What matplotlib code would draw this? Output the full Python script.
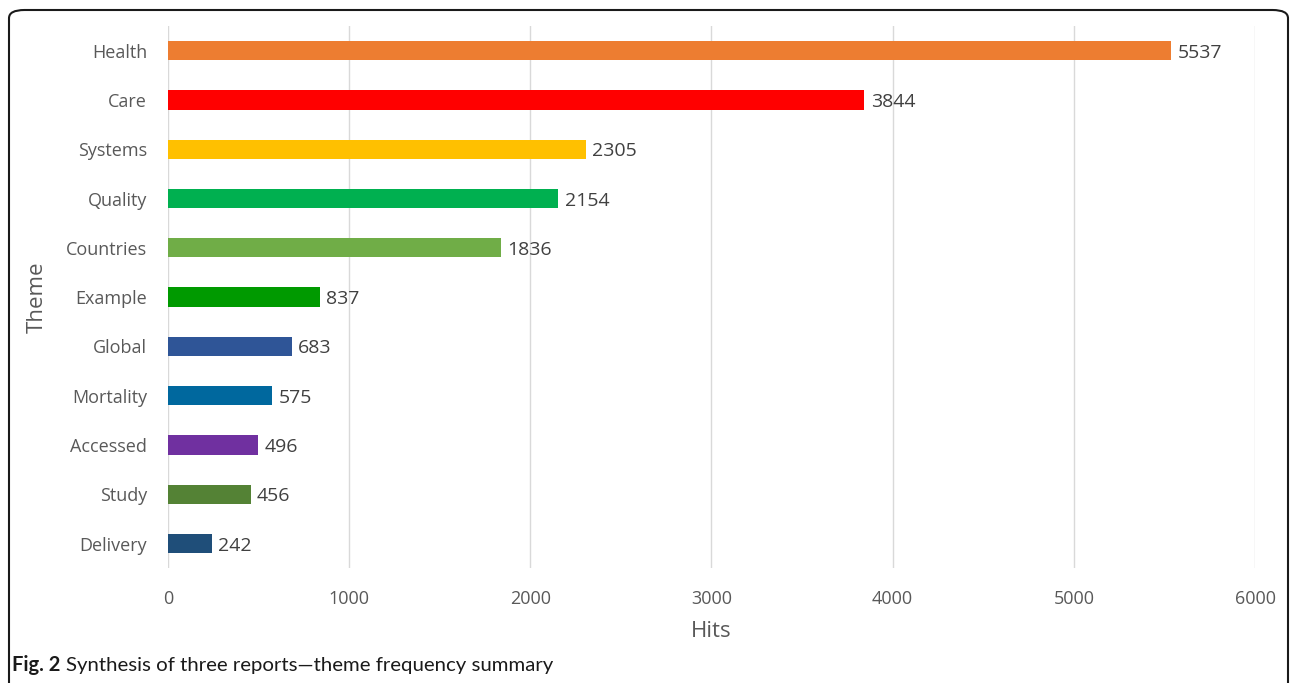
import matplotlib.pyplot as plt
from matplotlib.patches import FancyBboxPatch

themes = ["Health", "Care", "Systems", "Quality", "Countries", "Example",
          "Global", "Mortality", "Accessed", "Study", "Delivery"]
hits = [5537, 3844, 2305, 2154, 1836, 837, 683, 575, 496, 456, 242]
colors = ["#ED7D31", "#FF0000", "#FFC000", "#00B050", "#70AD47", "#009A00",
          "#2F5597", "#00689E", "#7030A0", "#548235", "#1F4E79"]

plt.rcParams['font.family'] = ['Open Sans', 'DejaVu Sans']

fig = plt.figure(figsize=(12.9, 6.83), dpi=100)
ax = fig.add_axes([0.1302, 0.168, 0.8427, 0.794])

ypos = list(range(len(themes)))[::-1]
ax.barh(ypos, hits, height=0.39, color=colors, zorder=3)
for y, v in zip(ypos, hits):
    ax.text(v + 35, y, str(v), va="center_baseline", ha="left", fontsize=14, color="#404040")

ax.set_xlim(0, 6000)
ax.set_ylim(-0.5, len(themes) - 0.5)
ax.set_xticks(range(0, 6001, 1000))
ax.set_yticks(ypos)
ax.set_yticklabels(themes)
ax.tick_params(axis="both", length=0, labelsize=13, labelcolor="#595959")
ax.tick_params(axis="x", pad=16)
ax.tick_params(axis="y", pad=15)
for lbl in ax.get_yticklabels():
    lbl.set_verticalalignment("center_baseline")
ax.grid(axis="x", color="#D9D9D9", linewidth=1, zorder=0)
for s in ax.spines.values():
    s.set_visible(False)

ax.set_xlabel("Hits", fontsize=16, color="#595959", labelpad=9)
ax.set_ylabel("Theme", fontsize=16, color="#595959", labelpad=13)

# rounded frame around the figure
frame = FancyBboxPatch((9 / 1290, -0.1), (1288 - 9) / 1290, 1 + 0.1 - 10 / 683,
                       boxstyle="round,pad=0,rounding_size=0.012",
                       transform=fig.transFigure, fill=False,
                       edgecolor="#1a1a1a", linewidth=1.5, clip_on=False)
fig.patches.append(frame)

fig.text(12 / 1290, 1 - 665 / 683, "Fig. 2", fontsize=14.5, fontweight="bold",
         color="#1a1a1a", va="center", family=["Lato", "DejaVu Sans"])
fig.text(66 / 1290, 1 - 665 / 683, "Synthesis of three reports\u2014theme frequency summary",
         fontsize=14.7, color="#1a1a1a", va="center", family=["Lato", "DejaVu Sans"])

fig.savefig("out.png", dpi=100)
